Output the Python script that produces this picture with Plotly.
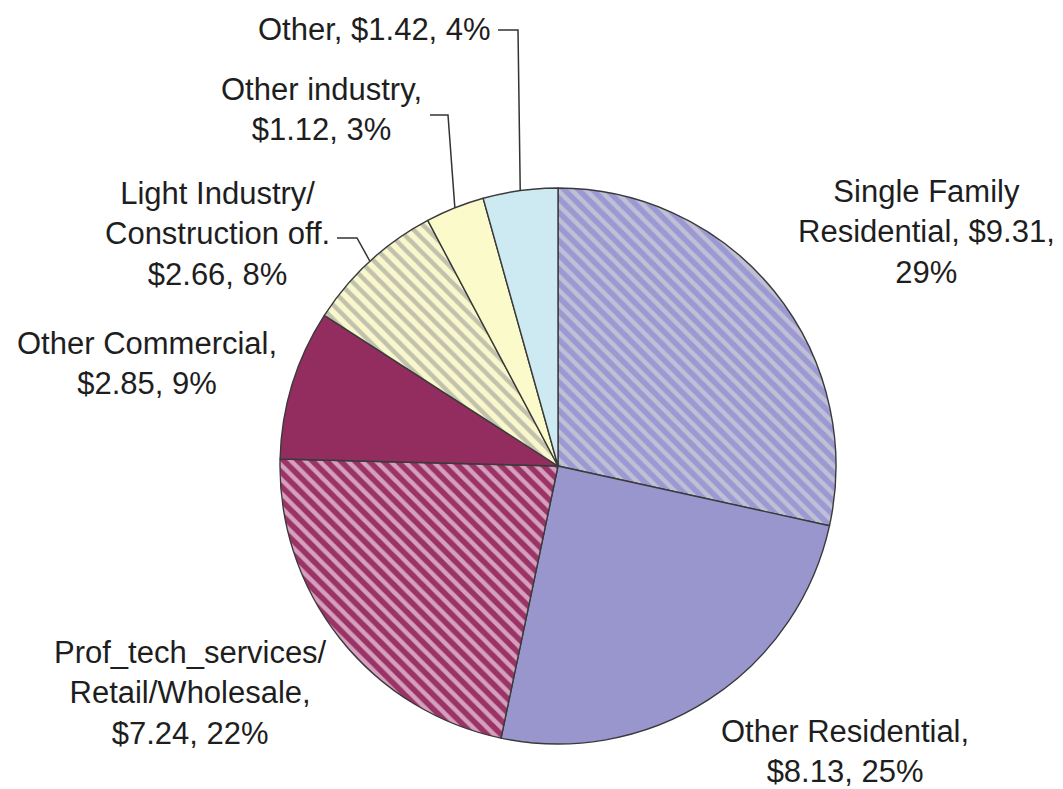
import plotly.graph_objects as go
import math

# ---- data ----
categories = ["Single Family Residential", "Other Residential",
              "Prof_tech_services/ Retail/Wholesale", "Other Commercial",
              "Light Industry/ Construction off.", "Other industry", "Other"]
values = [9.31, 8.13, 7.24, 2.85, 2.66, 1.12, 1.42]
percent_labels = ["29%", "25%", "22%", "9%", "8%", "3%", "4%"]
label_texts = [
    "Single Family<br>Residential, $9.31,<br>29%",
    "Other Residential,<br>$8.13, 25%",
    "Prof_tech_services/<br>Retail/Wholesale,<br>$7.24, 22%",
    "Other Commercial,<br>$2.85, 9%",
    "Light Industry/<br>Construction off.<br>$2.66, 8%",
    "Other industry,<br>$1.12, 3%",
    "Other, $1.42, 4%",
]

# ---- style ----
base_colors = ["#9b99d2", "#9896cc", "#9a3366", "#932d5f", "#f8f8cc", "#fafaca", "#cde9f1"]
stripe_shapes = ["\\", "", "\\", "", "\\", "", ""]
stripe_colors = ["#c0bfd6", "#9896cc", "#d69fbe", "#932d5f", "#c2c1ae", "#fafaca", "#cde9f1"]

W, H = 1063, 789
CX, CY, R = 558, 466, 278   # pie centre/radius in pixels


def px(x, y):
    return x / W, 1 - y / H


fig = go.Figure()
fig.add_trace(go.Pie(
    labels=categories,
    values=values,
    sort=False,
    direction="clockwise",
    rotation=0,
    textinfo="none",
    hoverinfo="skip",
    showlegend=False,
    domain=dict(x=[(CX - R) / W, (CX + R) / W],
                y=[(H - CY - R) / H, (H - CY + R) / H]),
    marker=dict(
        colors=base_colors,
        line=dict(color="#3a3a3a", width=1.4),
        pattern=dict(shape=stripe_shapes, fgcolor=stripe_colors,
                     bgcolor=base_colors, fillmode="replace",
                     size=10, solidity=0.45),
    ),
))

# label positions (pixel centres)
label_pos = [(926, 232), (845, 751), (190, 693), (147, 363),
             (217, 234), (321, 110), (374, 30)]
font = dict(family="Liberation Sans, Arial, sans-serif", size=31, color="#1e1e1e")
for txt, (x, y) in zip(label_texts, label_pos):
    ax, ay = px(x, y)
    fig.add_annotation(text=txt, x=ax, y=ay, xref="paper", yref="paper",
                       xanchor="center", yanchor="middle", showarrow=False,
                       font=font, align="center")

# leader lines: anchored at slice mid-angle on pie edge
total = sum(values)
cum = 0
mids = []
for v in values:
    mids.append((cum + v / 2) / total * 2 * math.pi)
    cum += v

leader_starts = {6: [(498, 30), (518, 30)],
                 5: [(430, 115), (448, 115)],
                 4: [(337, 238), (357, 238)]}
for idx, pts in leader_starts.items():
    a = mids[idx]
    ex, ey = CX + R * math.sin(a), CY - R * math.cos(a)
    allpts = pts + [(ex, ey)]
    path = ""
    for i, (x, y) in enumerate(allpts):
        X, Y = px(x, y)
        path += ("M" if i == 0 else "L") + f"{X},{Y} "
    fig.add_shape(type="path", path=path, xref="paper", yref="paper",
                  line=dict(color="#333333", width=1.5))

fig.update_layout(
    width=W, height=H,
    margin=dict(l=0, r=0, t=0, b=0),
    paper_bgcolor="white", plot_bgcolor="white",
)
fig.write_html("out.html", config={"displayModeBar": False},
               post_script="document.body.style.margin='0';document.body.style.overflow='hidden';")
